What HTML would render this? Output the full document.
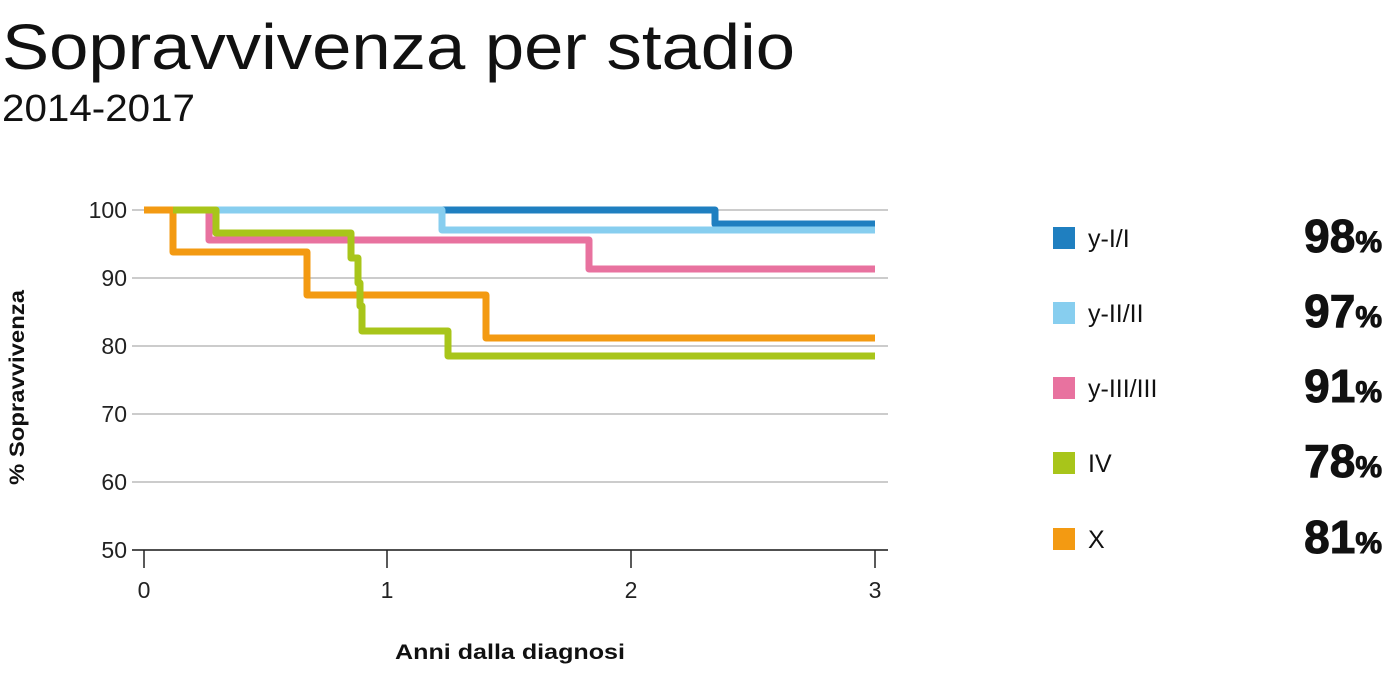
<!DOCTYPE html>
<html><head><meta charset="utf-8"><style>
body{margin:0;width:1384px;height:668px;background:#fff;font-family:"Liberation Sans",sans-serif;overflow:hidden}
</style></head><body>
<svg width="1384" height="668" xmlns="http://www.w3.org/2000/svg" font-family="Liberation Sans, sans-serif">
<text x="2" y="69" font-size="64" fill="#111" textLength="793" lengthAdjust="spacingAndGlyphs">Sopravvivenza per stadio</text>
<text x="2" y="121" font-size="38" fill="#111" textLength="193" lengthAdjust="spacingAndGlyphs">2014-2017</text>
<g stroke="#bbb" stroke-width="1.5">
<line x1="132" y1="210" x2="888" y2="210"/><line x1="132" y1="278" x2="888" y2="278"/>
<line x1="132" y1="346" x2="888" y2="346"/><line x1="132" y1="414" x2="888" y2="414"/>
<line x1="132" y1="482" x2="888" y2="482"/><line x1="132" y1="550" x2="888" y2="550"/>
</g>
<g stroke="#222" stroke-width="1.5">
<line x1="132" y1="550" x2="888" y2="550"/>
<line x1="144" y1="550" x2="144" y2="568"/><line x1="387" y1="550" x2="387" y2="568"/>
<line x1="631" y1="550" x2="631" y2="568"/><line x1="875" y1="550" x2="875" y2="568"/>
</g>
<g font-size="23" fill="#222" text-anchor="end">
<text x="127" y="218">100</text><text x="127" y="286">90</text><text x="127" y="354">80</text>
<text x="127" y="422">70</text><text x="127" y="490">60</text><text x="127" y="558">50</text>
</g>
<g font-size="23" fill="#222" text-anchor="middle">
<text x="144" y="598">0</text><text x="387" y="598">1</text><text x="631" y="598">2</text><text x="875" y="598">3</text>
</g>
<text x="395" y="659" font-size="21" font-weight="bold" fill="#111" textLength="230" lengthAdjust="spacingAndGlyphs">Anni dalla diagnosi</text>
<text transform="translate(24,485) rotate(-90)" font-size="21" font-weight="bold" fill="#111" textLength="195" lengthAdjust="spacingAndGlyphs">% Sopravvivenza</text>
<g fill="none" stroke-width="7" stroke-linejoin="round">
<polyline stroke="#1f7fc0" points="144,210 715,210 715,224 875,224"/>
<polyline stroke="#87ceef" points="144,210 442,210 442,230 875,230"/>
<polyline stroke="#e8729f" points="144,210 209,210 209,240 589,240 589,269 875,269"/>
<polyline stroke="#f39a12" points="144,210 173,210 173,252 307,252 307,295 486,295 486,338 875,338"/>
<polyline stroke="#a8c51a" points="173,210 216,210 216,233 351,233 351,258 358,258 358,283 360,283 360,306 362,306 362,331 448,331 448,356 875,356"/>
</g>
<rect x="1053" y="227" width="22" height="22" fill="#1f7fc0"/>
<rect x="1053" y="302" width="22" height="22" fill="#87ceef"/>
<rect x="1053" y="377" width="22" height="22" fill="#e8729f"/>
<rect x="1053" y="452" width="22" height="22" fill="#a8c51a"/>
<rect x="1053" y="528" width="22" height="22" fill="#f39a12"/>
<g font-size="25" fill="#111">
<text x="1088" y="247">y-I/I</text><text x="1088" y="322">y-II/II</text>
<text x="1088" y="397">y-III/III</text><text x="1088" y="472">IV</text><text x="1088" y="548">X</text>
</g>
<g font-weight="bold" fill="#111" text-anchor="end" stroke="#111" stroke-width="1">
<text x="1382" y="252"><tspan font-size="46">98</tspan><tspan font-size="30">%</tspan></text>
<text x="1382" y="327"><tspan font-size="46">97</tspan><tspan font-size="30">%</tspan></text>
<text x="1382" y="402"><tspan font-size="46">91</tspan><tspan font-size="30">%</tspan></text>
<text x="1382" y="477"><tspan font-size="46">78</tspan><tspan font-size="30">%</tspan></text>
<text x="1382" y="553"><tspan font-size="46">81</tspan><tspan font-size="30">%</tspan></text>
</g>
</svg>
</body></html>
